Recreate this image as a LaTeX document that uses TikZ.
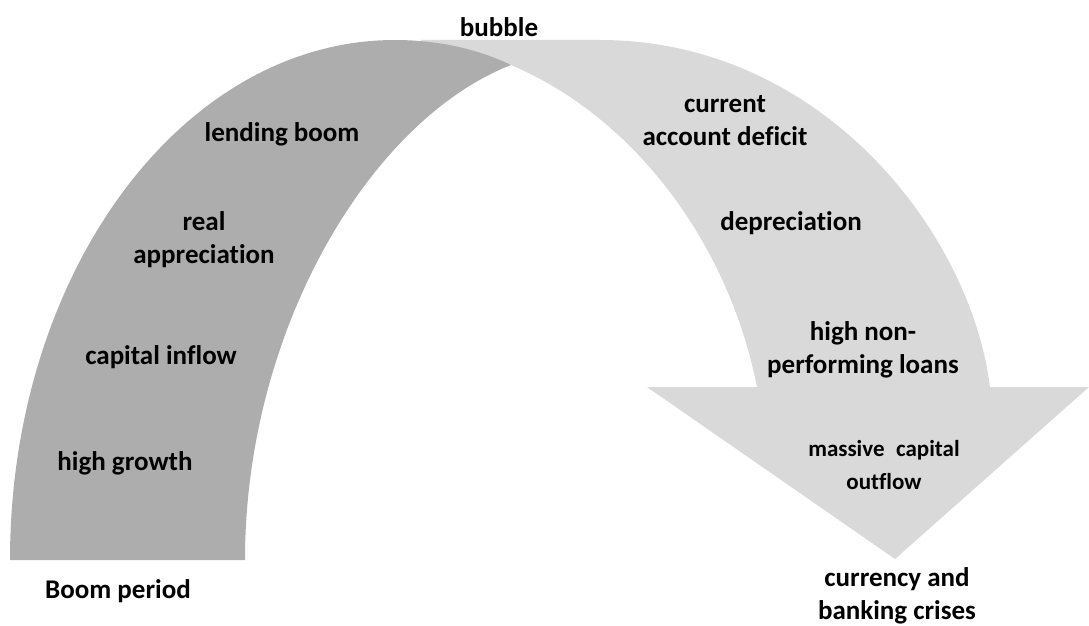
\documentclass[tikz,border=0pt]{standalone}
\usepackage{fontspec}
\setmainfont{Carlito}[Ligatures=NoCommon]
\begin{document}
\begin{tikzpicture}[x=1pt,y=-1pt,
  lbl/.style={font=\bfseries\fontsize{27}{33}\selectfont, align=center, inner sep=0pt},
  lblsmall/.style={font=\bfseries\fontsize{23}{33}\selectfont, align=center, inner sep=0pt}]
\definecolor{boomgray}{RGB}{173,173,173}
\definecolor{bustgray}{RGB}{217,217,217}
\useasboundingbox (0,0) rectangle (1089,626);

% curved downward arrow (bust phase)
\fill[bustgray] (420,40) -- (600,40)
  .. controls (820,40) and (970,230) .. (990,387)
  -- (1089,387) -- (895,559) -- (647,387) -- (757,387)
  .. controls (730,250) and (640,120) .. (511,65)
  -- (470,58) -- cycle;

% rising arch (boom phase), drawn over the arrow's tail
\fill[boomgray] (10,560)
  .. controls (10,273) and (182,40) .. (395,40)
  .. controls (440,40) and (480,50) .. (511,65)
  .. controls (370,120) and (245,330) .. (245,560)
  -- cycle;

% labels
\node[lbl] (bubble) at (499,27) {bubble};
\node[lbl] (lending) at (282,134) {lending boom};
\node[lbl] (realapp) at (204,240) {real\\appreciation};
\node[lbl] (inflow) at (161,357) {capital inflow};
\node[lbl] (growth) at (125,463) {high growth};
\node[lbl] (boom) at (118,591) {Boom period};
\node[lbl] (deficit) at (725,121) {current\\account deficit};
\node[lbl] (deprec) at (791,223) {depreciation};
\node[lbl] (npl) at (863,350) {high non-\\performing loans};
\node[lblsmall] (outflow) at (884,465) {massive\enspace capital\\outflow};
\node[lbl] (crises) at (897,596) {currency and\\banking crises};
\end{tikzpicture}
\end{document}
